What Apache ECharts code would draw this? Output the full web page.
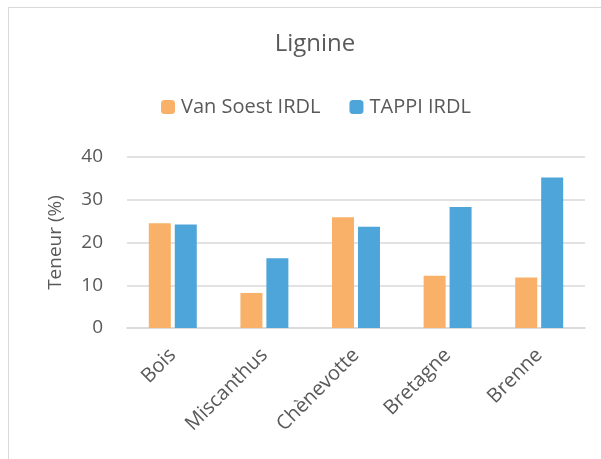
<!DOCTYPE html>
<html>
<head>
<meta charset="utf-8">
<script src="https://cdn.jsdelivr.net/npm/echarts@6/dist/echarts.min.js"></script>
<style>
	html, body { margin: 0; padding: 0; background: #fff; overflow: hidden; }
	#frame { position: absolute; left: 8px; top: 7px; width: 640px; height: 500px; border: 1px solid #d9d9d9; }
	#chart { position: absolute; left: 0; top: 0; width: 601px; height: 459px; }
</style>
</head>
<body>
<div id="frame"></div>
<div id="chart"></div>
<script>
const categories = ["Bois", "Miscanthus", "Chènevotte", "Bretagne", "Brenne"]
const vanSoest = [24.5, 8.2, 25.9, 12.2, 11.8]
const tappi = [24.2, 16.3, 23.7, 28.3, 35.2]
const yTicks = [0, 10, 20, 30, 40]

const font = "Open Sans"
const grey = "#595959"

const chart = echarts.init(document.querySelector("#chart"))
chart.setOption({
	animation: false,
	textStyle: { fontFamily: font },
	title: {
		text: "Lignine",
		left: 310,
		top: 27,
		textAlign: "center",
		textStyle: { fontFamily: font, fontSize: 24, fontWeight: "normal", color: grey }
	},
	legend: {
		left: 156,
		top: 92,
		itemWidth: 14,
		itemHeight: 14,
		itemGap: 29,
		textStyle: { fontFamily: font, fontSize: 20, color: grey, padding: [0, 0, 0, 1] },
		data: ["Van Soest IRDL", "TAPPI IRDL"]
	},
	grid: { left: 127, right: 16, top: 157, bottom: 131 },
	xAxis: {
		type: "category",
		data: categories,
		axisLine: { lineStyle: { color: "#d9d9d9", width: 1.5 } },
		axisTick: { show: false },
		axisLabel: { rotate: 45, fontSize: 20, color: grey, margin: 24 }
	},
	yAxis: {
		type: "value",
		min: yTicks[0],
		max: yTicks[yTicks.length - 1],
		interval: 10,
		name: "Teneur (%)",
		nameLocation: "middle",
		nameGap: 62,
		nameTextStyle: { fontSize: 19, color: grey },
		axisLine: { show: false },
		axisTick: { show: false },
		axisLabel: { fontSize: 19, color: grey, margin: 24 },
		splitLine: { lineStyle: { color: "#d9d9d9", width: 1.5 } }
	},
	series: [
		{
			name: "Van Soest IRDL",
			type: "bar",
			data: vanSoest,
			barWidth: 22,
			barGap: "18%",
			itemStyle: { color: "#F9B169" }
		},
		{
			name: "TAPPI IRDL",
			type: "bar",
			data: tappi,
			barWidth: 22,
			itemStyle: { color: "#4EA5D9" }
		}
	]
})
</script>
</body>
</html>
